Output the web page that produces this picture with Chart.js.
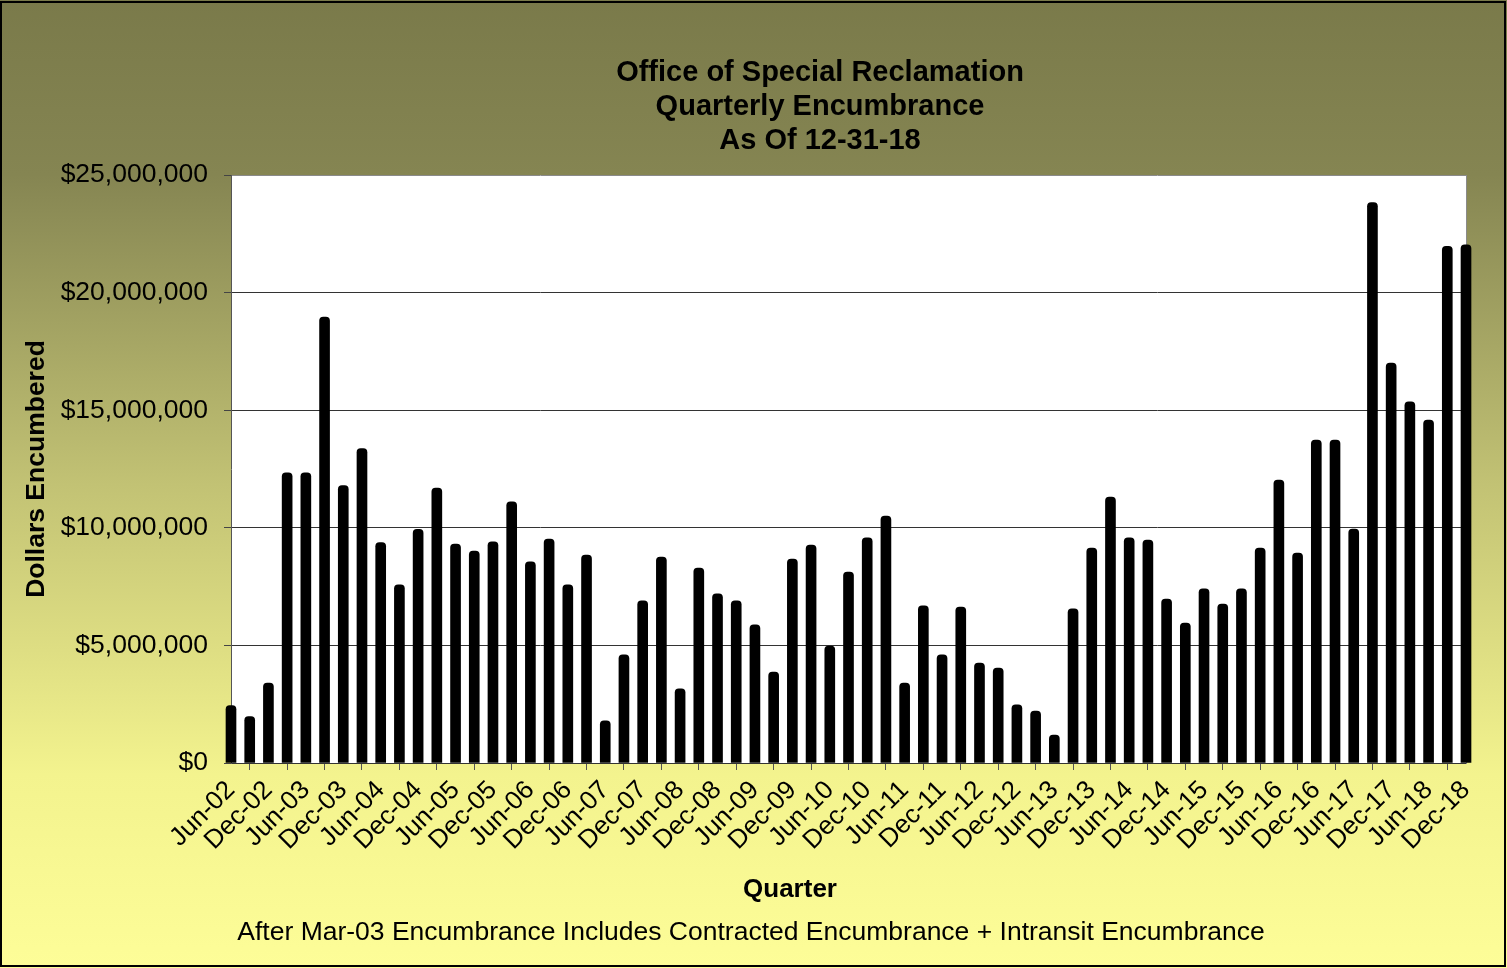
<!DOCTYPE html>
<html>
<head>
<meta charset="utf-8">
<title>Quarterly Encumbrance</title>
<script src="https://cdn.jsdelivr.net/npm/chart.js@4.4.1/dist/chart.umd.min.js"></script>
<style>
    html, body { margin: 0; padding: 0; background: #fff; }
    canvas { display: block; }
</style>
</head>
<body>
<canvas id="encumbranceChart" width="1507" height="968"></canvas>
<script>
// Chart data
const quarters = [
    "Jun-02", "Sep-02", "Dec-02",
    "Mar-03", "Jun-03", "Sep-03", "Dec-03",
    "Mar-04", "Jun-04", "Sep-04", "Dec-04",
    "Mar-05", "Jun-05", "Sep-05", "Dec-05",
    "Mar-06", "Jun-06", "Sep-06", "Dec-06",
    "Mar-07", "Jun-07", "Sep-07", "Dec-07",
    "Mar-08", "Jun-08", "Sep-08", "Dec-08",
    "Mar-09", "Jun-09", "Sep-09", "Dec-09",
    "Mar-10", "Jun-10", "Sep-10", "Dec-10",
    "Mar-11", "Jun-11", "Sep-11", "Dec-11",
    "Mar-12", "Jun-12", "Sep-12", "Dec-12",
    "Mar-13", "Jun-13", "Sep-13", "Dec-13",
    "Mar-14", "Jun-14", "Sep-14", "Dec-14",
    "Mar-15", "Jun-15", "Sep-15", "Dec-15",
    "Mar-16", "Jun-16", "Sep-16", "Dec-16",
    "Mar-17", "Jun-17", "Sep-17", "Dec-17",
    "Mar-18", "Jun-18", "Sep-18", "Dec-18"
];

const encumbrance = [
    2440000, 1970000, 3400000,
    12340000, 12340000, 18960000, 11790000,
    13370000, 9370000, 7570000, 9930000,
    11690000, 9310000, 9010000, 9400000,
    11100000, 8550000, 9520000, 7570000,
    8840000, 1790000, 4600000, 6890000,
    8760000, 3150000, 8290000, 7190000,
    6890000, 5870000, 3870000, 8670000,
    9270000, 4970000, 8120000, 9570000,
    10500000, 3400000, 6680000, 4600000,
    6630000, 4250000, 4040000, 2470000,
    2210000, 1190000, 6550000, 9140000,
    11310000, 9570000, 9480000, 6970000,
    5950000, 7400000, 6760000, 7400000,
    9140000, 12030000, 8930000, 13730000,
    13730000, 9950000, 23830000, 17000000,
    15360000, 14580000, 21970000, 22030000
];

const yTickValues = [0, 5000000, 10000000, 15000000, 20000000, 25000000];

const titleLines = ["Office of Special Reclamation", "Quarterly Encumbrance", "As Of 12-31-18"];
const yAxisTitle = "Dollars Encumbered";
const xAxisTitle = "Quarter";
const footnote = "After Mar-03 Encumbrance Includes Contracted Encumbrance + Intransit Encumbrance";

const FONT = "'Liberation Sans', Arial, sans-serif";
Chart.defaults.font.family = FONT;
Chart.defaults.color = "#000";

// Olive-to-yellow background, white plot area, outer frame
const backgroundPlugin = {
    id: "background",
    beforeDraw(chart) {
        const { ctx, width, height, chartArea } = chart;
        const grad = ctx.createLinearGradient(0, 0, 0, height);
        grad.addColorStop(0, "#7a7a4a");
        grad.addColorStop(0.18, "#858552");
        grad.addColorStop(0.5, "#c2c274");
        grad.addColorStop(0.8, "#f3f38e");
        grad.addColorStop(1, "#fdfd98");
        ctx.save();
        ctx.fillStyle = grad;
        ctx.fillRect(0, 0, width, height);
        ctx.fillStyle = "#fff";
        ctx.fillRect(chartArea.left, chartArea.top, chartArea.right - chartArea.left, chartArea.bottom - chartArea.top);
        ctx.restore();
    },
    afterDraw(chart) {
        const { ctx, width, height } = chart;
        ctx.save();
        ctx.strokeStyle = "#000";
        ctx.lineWidth = 2;
        ctx.strokeRect(1, 2, width - 3, height - 4);
        ctx.restore();
    }
};

// Title block, x axis title and footnote sit off the plot centre in the original
const textPlugin = {
    id: "texts",
    afterDraw(chart) {
        const ctx = chart.ctx;
        ctx.save();
        ctx.fillStyle = "#000";
        ctx.textAlign = "center";
        ctx.textBaseline = "middle";
        ctx.font = "bold 29px " + FONT;
        titleLines.forEach((line, i) => ctx.fillText(line, 820, 73 + i * 34));
        ctx.font = "bold 26px " + FONT;
        ctx.fillText(xAxisTitle, 790, 890);
        ctx.font = "26.5px " + FONT;
        ctx.fillText(footnote, 751, 933);
        ctx.restore();
    }
};

const ctx = document.getElementById("encumbranceChart").getContext("2d");

new Chart(ctx, {
    type: "bar",
    data: {
        labels: quarters,
        datasets: [{
            label: "Encumbrance",
            data: encumbrance,
            backgroundColor: "#000",
            borderColor: "#000",
            borderWidth: 0,
            barThickness: 10,
            borderRadius: { topLeft: 4, topRight: 4 },
            borderSkipped: "bottom",
            clip: { left: 6, top: false, right: 6, bottom: 0 }
        }]
    },
    options: {
        responsive: false,
        animation: false,
        layout: {
            padding: { top: 175, left: 0, right: 0, bottom: 0 }
        },
        scales: {
            x: {
                offset: false,
                afterFit: scale => { scale.height = 205; },
                grid: {
                    drawOnChartArea: false,
                    drawTicks: true,
                    tickLength: 7,
                    tickColor: "#555"
                },
                border: { color: "#333", width: 1 },
                ticks: {
                    autoSkip: false,
                    maxRotation: 45,
                    minRotation: 45,
                    padding: 5,
                    font: { size: 26 },
                    callback: (value, index) => (index % 2 === 0 ? quarters[index] : null)
                }
            },
            y: {
                min: 0,
                max: 25000000,
                afterFit: scale => { scale.width = 231; },
                afterBuildTicks: scale => { scale.ticks = yTickValues.map(v => ({ value: v })); },
                grid: {
                    color: c => (c.tick && c.tick.value === 25000000 ? "#8a8a8a" : "#333"),
                    tickLength: 7,
                    tickColor: "#444"
                },
                border: { color: "#555", width: 1 },
                ticks: {
                    padding: 16,
                    font: { size: 26.5 },
                    callback: value => "$" + Number(value).toLocaleString("en-US")
                },
                title: {
                    display: true,
                    text: yAxisTitle,
                    font: { size: 26.5, weight: "bold" },
                    padding: { top: 21, bottom: 0 }
                }
            },
            frameRight: {
                type: "linear",
                position: "right",
                display: true,
                afterFit: scale => { scale.width = 41; },
                grid: { display: false, drawTicks: false },
                border: { color: "#8a8a8a", width: 1 },
                ticks: { display: false }
            }
        },
        plugins: {
            legend: { display: false },
            tooltip: { enabled: false }
        }
    },
    plugins: [backgroundPlugin, textPlugin]
});
</script>
</body>
</html>
